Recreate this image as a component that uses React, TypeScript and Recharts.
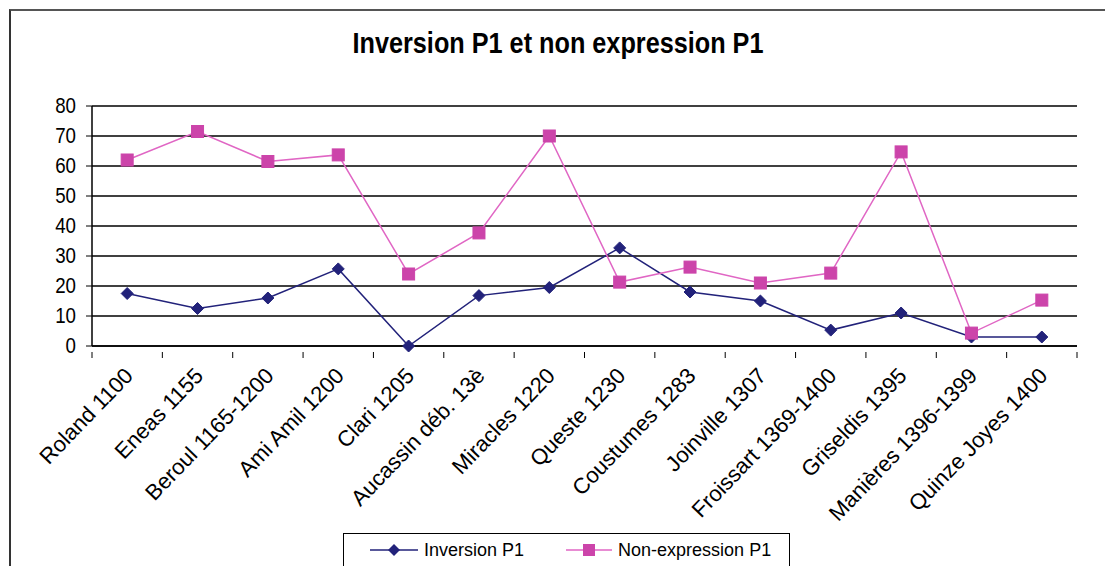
import React from 'react';
import { LineChart, Line, XAxis, YAxis, CartesianGrid } from 'recharts';

const categories = [
  'Roland 1100',
  'Eneas 1155',
  'Beroul 1165-1200',
  'Ami Amil 1200',
  'Clari 1205',
  'Aucassin déb. 13è',
  'Miracles 1220',
  'Queste 1230',
  'Coustumes 1283',
  'Joinville 1307',
  'Froissart 1369-1400',
  'Griseldis 1395',
  'Manières 1396-1399',
  'Quinze Joyes 1400',
];

const inversionP1 = [17.5, 12.5, 16, 25.7, 0, 16.8, 19.5, 32.7, 18, 15, 5.3, 11, 3, 3];
const nonExpressionP1 = [62, 71.5, 61.5, 63.7, 24, 37.7, 70, 21.3, 26.3, 21, 24.3, 64.7, 4.3, 15.3];

const yTicks = [0, 10, 20, 30, 40, 50, 60, 70, 80];

const data = categories.map((name, i) => ({
  name,
  inversion: inversionP1[i],
  nonExpression: nonExpressionP1[i],
}));

const NAVY = '#22227a';
const PINK_LINE = '#e066c4';
const PINK_FILL = '#cc44aa';
const STEP = 985 / 14;

const Diamond = (props: any) => {
  const { cx, cy } = props;
  if (cx == null || cy == null) return null;
  const r = 6;
  return (
    <polygon
      points={`${cx},${cy - r} ${cx + r},${cy} ${cx},${cy + r} ${cx - r},${cy}`}
      fill={NAVY}
      stroke={NAVY}
    />
  );
};

const Square = (props: any) => {
  const { cx, cy } = props;
  if (cx == null || cy == null) return null;
  const s = 12;
  return <rect x={cx - s / 2} y={cy - s / 2} width={s} height={s} fill={PINK_FILL} stroke={PINK_FILL} />;
};

const XTick = (props: any) => {
  const { x, y, payload, index } = props;
  const axisY = y - 2;
  const tx = x + 7;
  const ty = axisY + 25;
  return (
    <g>
      <line x1={x - STEP / 2} y1={axisY} x2={x - STEP / 2} y2={axisY + 6} stroke="#000" />
      {index === categories.length - 1 && (
        <line x1={x + STEP / 2} y1={axisY} x2={x + STEP / 2} y2={axisY + 6} stroke="#000" />
      )}
      <text
        x={tx}
        y={ty}
        transform={`rotate(-46, ${tx}, ${ty})`}
        textAnchor="end"
        fontSize={22}
        fontFamily="'Liberation Sans', Arial, sans-serif"
        fill="#000"
      >
        {payload.value}
      </text>
    </g>
  );
};

const YTick = (props: any) => {
  const { x, y, payload } = props;
  return (
    <text
      x={x - 4}
      y={y + 7}
      textAnchor="end"
      fontSize={22}
      fontFamily="'Liberation Sans', Arial, sans-serif"
      fill="#000"
      transform={`translate(${x - 4}, 0) scale(0.85, 1) translate(${-(x - 4)}, 0)`}
    >
      {payload.value}
    </text>
  );
};

const LegendBox = () => (
  <div
    style={{
      position: 'absolute',
      left: 343,
      top: 533,
      width: 447,
      border: '1.5px solid #000',
      height: 40,
      boxSizing: 'border-box',
      background: '#fff',
      display: 'flex',
      alignItems: 'center',
      fontFamily: "'Liberation Sans', Arial, sans-serif",
      fontSize: 18,
      color: '#000',
      paddingLeft: 26,
      paddingBottom: 6,
    }}
  >
    <svg width={50} height={16} style={{ marginRight: 4 }}>
      <line x1={0} y1={8} x2={48} y2={8} stroke={NAVY} strokeWidth={1.5} />
      <polygon points="24,2 30,8 24,14 18,8" fill={NAVY} />
    </svg>
    <span style={{ marginRight: 42 }}>Inversion P1</span>
    <svg width={48} height={16} style={{ marginRight: 4 }}>
      <line x1={0} y1={8} x2={46} y2={8} stroke={PINK_LINE} strokeWidth={1.5} />
      <rect x={17} y={2} width={12} height={12} fill={PINK_FILL} />
    </svg>
    <span>Non-expression P1</span>
  </div>
);

export default function App() {
  return (
    <div style={{ position: 'absolute', top: 0, left: 0, width: 1105, height: 566, background: '#fff', overflow: 'hidden' }}>
      <div
        style={{
          position: 'absolute',
          left: 9,
          top: 9,
          width: 1110,
          height: 570,
          borderTop: '2px solid #555',
          borderLeft: '2px solid #333',
        }}
      />
      <svg style={{ position: 'absolute', left: 0, top: 0 }} width={1105} height={80}>
        <text
          x={558}
          y={53}
          textAnchor="middle"
          fontSize={29}
          fontWeight="bold"
          fontFamily="'Liberation Sans Narrow', 'Liberation Sans', Arial, sans-serif"
          textLength={411}
          lengthAdjust="spacingAndGlyphs"
          fill="#000"
        >
          Inversion P1 et non expression P1
        </text>
      </svg>
      <div style={{ position: 'absolute', left: 0, top: 0 }}>
        <LineChart width={1105} height={566} data={data} margin={{ top: 106, right: 28, left: 32, bottom: 50 }}>
          <CartesianGrid vertical={false} stroke="#000" strokeWidth={1.5} />
          <XAxis
            dataKey="name"
            interval={0}
            padding={{ left: STEP / 2, right: STEP / 2 }}
            axisLine={{ stroke: '#000', strokeWidth: 1.5 }}
            tickLine={false}
            tick={<XTick />}
            height={170}
          />
          <YAxis
            domain={[0, 80]}
            ticks={yTicks}
            interval={0}
            width={60}
            axisLine={{ stroke: '#000', strokeWidth: 1.5 }}
            tickLine={{ stroke: '#000' }}
            tickSize={6}
            tickMargin={6}
            tick={<YTick />}
          />
          <YAxis
            yAxisId="right"
            orientation="right"
            domain={[0, 80]}
            width={0}
            tick={false}
            tickLine={false}
            axisLine={{ stroke: '#000', strokeWidth: 1.5 }}
          />
          <Line
            type="linear"
            dataKey="inversion"
            name="Inversion P1"
            stroke={NAVY}
            strokeWidth={1.5}
            dot={<Diamond />}
            isAnimationActive={false}
          />
          <Line
            type="linear"
            dataKey="nonExpression"
            name="Non-expression P1"
            stroke={PINK_LINE}
            strokeWidth={1.5}
            dot={<Square />}
            isAnimationActive={false}
          />
        </LineChart>
      </div>
      <LegendBox />
    </div>
  );
}
